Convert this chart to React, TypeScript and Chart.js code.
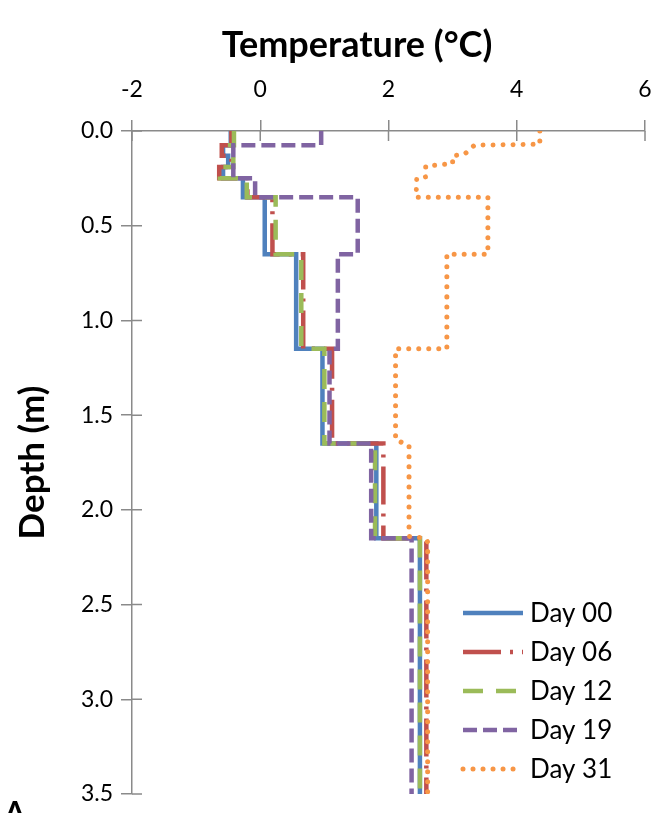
import React, { useEffect, useRef } from 'react';
import { Chart, registerables } from 'chart.js';

Chart.register(...registerables);

// ---------- data ----------
const seriesNames = ['Day 00', 'Day 06', 'Day 12', 'Day 19', 'Day 31'];
const xAxisTitle = 'Temperature (°C)';
const yAxisTitle = 'Depth (m)';
const panelLetter = 'A';
const tempTicks = [-2, 0, 2, 4, 6];
const depthTicks = [0, 0.5, 1.0, 1.5, 2.0, 2.5, 3.0, 3.5];

// layer boundaries (m) for the stepped profiles
const layerDepths = [0, 0.075, 0.13, 0.19, 0.25, 0.35, 0.65, 1.15, 1.65, 2.15, 3.5];

// temperature in each layer (°C)
const day00 = [-0.46, -0.58, -0.5, -0.58, -0.27, 0.07, 0.56, 0.97, 1.81, 2.49];
const day06 = [-0.45, -0.6, -0.45, -0.64, -0.2, 0.19, 0.67, 1.12, 1.92, 2.59];
const day12 = [-0.41, -0.47, -0.42, -0.63, -0.21, 0.24, 0.64, 1.0, 1.79, 2.49];
const day19 = [0.95, -0.42, -0.42, -0.42, -0.08, 1.52, 1.21, 1.08, 1.73, 2.36];

// Day 31 profile vertices
const day31Temp = [4.36, 4.36, 3.34, 3.18, 3.0, 3.0, 2.58, 2.58, 2.44, 2.43, 3.55, 3.55, 2.91, 2.91, 2.11, 2.11, 2.32, 2.32, 2.58, 2.61, 2.61];
const day31Depth = [0, 0.07, 0.075, 0.124, 0.13, 0.172, 0.185, 0.242, 0.25, 0.35, 0.35, 0.65, 0.65, 1.15, 1.15, 1.63, 1.66, 2.14, 2.15, 2.17, 3.5];

// ---------- styles ----------
const colors = ['#4F81BD', '#C0504D', '#9BBB59', '#8064A2', '#F79646'];
const widths = [4.5, 4.5, 4.5, 4.5, 5];
const dashes: number[][] = [[], [38, 9, 3, 9], [20, 13], [14, 6], [0.01, 10]];
const caps: CanvasLineCap[] = ['butt', 'butt', 'butt', 'butt', 'round'];
const axisGrey = '#8a8a8a';
const FONT = 'Lato';

function stepPoints(temps: number[]) {
  const pts: { x: number; y: number }[] = [];
  temps.forEach((t, i) => {
    pts.push({ x: t, y: layerDepths[i] });
    pts.push({ x: t, y: layerDepths[i + 1] });
  });
  return pts;
}

const innerTicks = {
  id: 'innerTicks',
  beforeDatasetsDraw(chart: any) {
    const { ctx, chartArea, scales } = chart;
    ctx.save();
    ctx.strokeStyle = axisGrey;
    ctx.lineWidth = 1.5;
    ctx.beginPath();
    scales.x.ticks.forEach((t: any) => {
      const px = scales.x.getPixelForValue(t.value);
      ctx.moveTo(px, chartArea.top);
      ctx.lineTo(px, chartArea.top + 10);
    });
    scales.y.ticks.forEach((t: any) => {
      const py = scales.y.getPixelForValue(t.value);
      ctx.moveTo(chartArea.left, py);
      ctx.lineTo(chartArea.left + 10, py);
    });
    ctx.stroke();
    ctx.restore();
  },
};

const extras = {
  id: 'extras',
  afterDraw(chart: any) {
    const { ctx, chartArea } = chart;
    const x0 = chartArea.right - 182;
    const y0 = chartArea.bottom - 181;
    ctx.save();
    // legend inside plot
    chart.data.datasets.forEach((ds: any, i: number) => {
      const y = y0 + i * 39;
      ctx.beginPath();
      ctx.strokeStyle = ds.borderColor;
      ctx.lineWidth = ds.borderWidth;
      ctx.setLineDash(ds.borderDash || []);
      ctx.lineCap = ds.borderCapStyle || 'butt';
      ctx.moveTo(x0, y);
      ctx.lineTo(x0 + 60, y);
      ctx.stroke();
      ctx.setLineDash([]);
      ctx.fillStyle = '#000';
      ctx.font = `26px ${FONT}`;
      ctx.textBaseline = 'middle';
      ctx.textAlign = 'left';
      ctx.fillText(ds.label, x0 + 67, y + 1);
    });
    // x-axis title (sits left of the plot centre, as in the original)
    ctx.fillStyle = '#000';
    ctx.font = `bold 36px ${FONT}`;
    ctx.textAlign = 'center';
    ctx.textBaseline = 'middle';
    ctx.fillText(xAxisTitle, chartArea.left + 225, 45);
    // panel letter partly cut at the bottom edge
    ctx.font = `bold 30px ${FONT}`;
    ctx.textBaseline = 'alphabetic';
    ctx.fillText(panelLetter, 15, chart.height + 10);
    ctx.restore();
  },
};

export default function App() {
  const ref = useRef<HTMLCanvasElement>(null);

  useEffect(() => {
    if (!ref.current) return;
    const stepSeries = [day00, day06, day12, day19];
    const datasets: any[] = stepSeries.map((s, i) => ({
      label: seriesNames[i],
      data: stepPoints(s),
    }));
    datasets.push({
      label: seriesNames[4],
      data: day31Temp.map((t, i) => ({ x: t, y: day31Depth[i] })),
    });
    datasets.forEach((ds, i) => {
      Object.assign(ds, {
        showLine: true,
        borderColor: colors[i],
        backgroundColor: colors[i],
        borderWidth: widths[i],
        borderDash: dashes[i],
        borderCapStyle: caps[i],
        borderJoinStyle: 'miter',
        pointRadius: 0,
        pointHoverRadius: 0,
        fill: false,
        tension: 0,
        order: 5 - i,
      });
    });

    const chart = new Chart(ref.current, {
      type: 'scatter',
      data: { datasets },
      options: {
        animation: false,
        responsive: true,
        maintainAspectRatio: false,
        layout: { padding: { top: 0, left: 0, right: 16, bottom: 19 } },
        plugins: { legend: { display: false }, tooltip: { enabled: false } },
        events: [],
        scales: {
          x: {
            type: 'linear',
            position: 'top',
            min: -2,
            max: 6,
            afterBuildTicks: (scale: any) => {
              scale.ticks = tempTicks.map((v) => ({ value: v }));
            },
            afterFit: (scale: any) => {
              scale.height = 131;
              scale.paddingLeft = 0;
              scale.paddingRight = 0;
            },
            ticks: {
              font: { family: FONT, size: 23 },
              color: '#000',
              padding: 17,
              callback: (v: any) => String(v),
            },
            grid: {
              drawOnChartArea: false,
              color: axisGrey,
              lineWidth: 1.5,
              tickLength: 11,
            },
            border: { color: axisGrey, width: 1.5 },
            title: { display: false },
          },
          y: {
            type: 'linear',
            reverse: true,
            min: 0,
            max: 3.5,
            afterBuildTicks: (scale: any) => {
              scale.ticks = depthTicks.map((v) => ({ value: v }));
            },
            afterFit: (scale: any) => {
              scale.width = 132;
              scale.paddingTop = 0;
              scale.paddingBottom = 0;
            },
            ticks: {
              font: { family: FONT, size: 23 },
              color: '#000',
              padding: 8,
              callback: (v: any) => Number(v).toFixed(1),
            },
            grid: {
              drawOnChartArea: false,
              color: axisGrey,
              lineWidth: 1.5,
              tickLength: 11,
            },
            border: { color: axisGrey, width: 1.5 },
            title: {
              display: true,
              text: yAxisTitle,
              color: '#000',
              font: { family: FONT, size: 35, weight: 'bold' },
              padding: { top: 12, bottom: 0 },
            },
          },
        },
      },
      plugins: [innerTicks, extras],
    });
    return () => chart.destroy();
  }, []);

  return (
    <div style={{ position: 'absolute', left: 0, top: 0, width: 661, height: 813, background: '#fff' }}>
      <canvas ref={ref} />
    </div>
  );
}
